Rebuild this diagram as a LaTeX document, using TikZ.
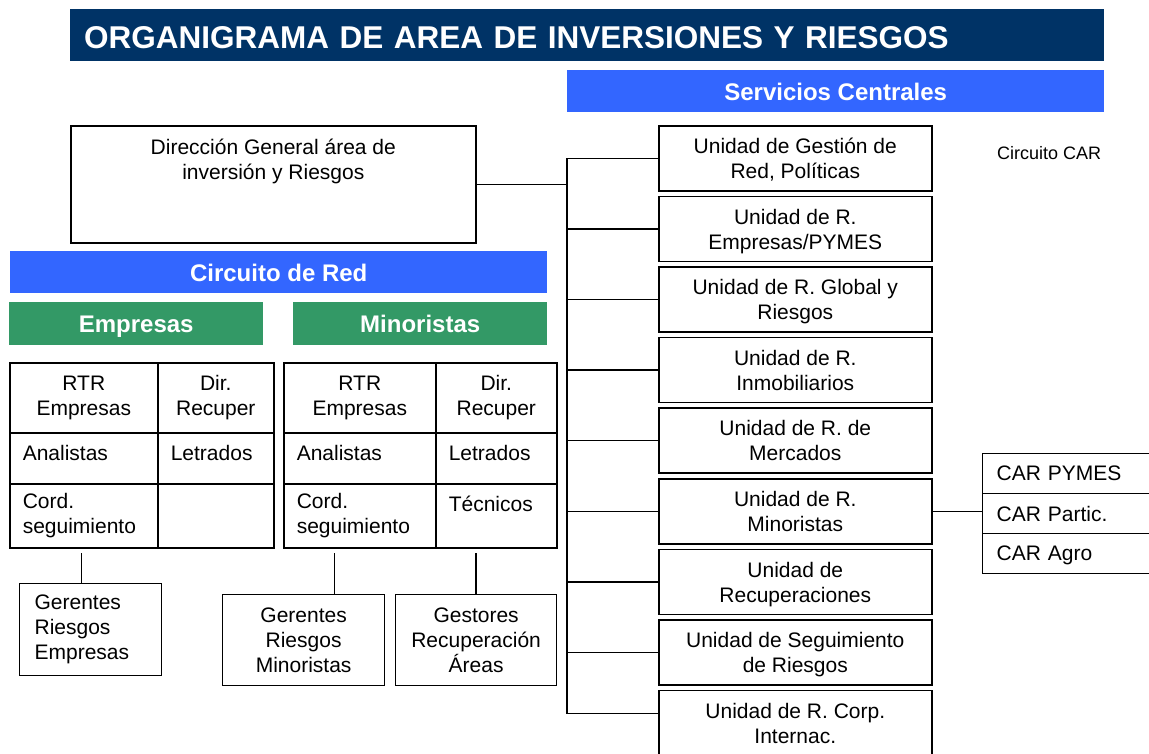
\documentclass[tikz,border=0pt]{standalone}
\usepackage{fontspec}
\setmainfont{Liberation Sans}
\usepackage{tikz}
\definecolor{titleblue}{RGB}{0,51,102}
\definecolor{banblue}{RGB}{51,102,255}
\definecolor{bangreen}{RGB}{51,153,102}

\begin{document}
\begin{tikzpicture}[x=1pt, y=-1pt,
	txt/.style={font=\fontsize{21}{25}\selectfont},
	banner/.style={anchor=north west, inner sep=0pt, text=white, text height=18pt, text depth=0pt, font=\fontsize{24}{28}\selectfont\bfseries},
	unit/.style={draw, line width=1.6pt, anchor=north west, inner sep=0pt, minimum width=273pt, minimum height=65pt, text depth=0pt, align=center, txt},
	cell/.style={draw, line width=1.6pt, anchor=north west, inner sep=0pt, txt},
	sub/.style={draw, line width=1.2pt, anchor=north west, inner sep=0pt, txt},
	con/.style={line width=1.4pt}]
			\useasboundingbox (0,0) rectangle (1149,753);
			%%
			\node[banner, fill=titleblue, minimum width=1034pt, minimum height=52pt, text width=1006pt, text height=26pt, align=left, font=\fontsize{31.5}{35}\selectfont\bfseries] (titulo) at (70,9) {ORGANIGRAMA DE AREA DE INVERSIONES Y RIESGOS};
			\node[banner, fill=banblue, minimum width=537pt, minimum height=42pt, text height=19pt] (serv) at (567,70) {Servicios Centrales};
			\node[banner, fill=banblue, minimum width=537pt, minimum height=42pt] (red) at (10,251) {Circuito de Red};
			\node[banner, fill=bangreen, minimum width=254pt, minimum height=43pt] (emp) at (9,302) {Empresas};
			\node[banner, fill=bangreen, minimum width=254pt, minimum height=43pt] (min) at (293,302) {Minoristas};
			%%
			\node[unit, minimum width=405pt, minimum height=117pt] (dir) at (70,125) {};
			\node[txt, anchor=north, align=center, inner sep=0pt] (dirtxt) at ([yshift=-14pt]dir.north) {Dirección General área de\\inversión y Riesgos};
			%%
			\foreach \i/\t in {1/{Unidad de Gestión de\\Red, Políticas},
				2/{Unidad de R.\\Empresas/PYMES},
				3/{Unidad de R. Global y\\Riesgos},
				4/{Unidad de R.\\Inmobiliarios},
				5/{Unidad de R. de\\Mercados},
				6/{Unidad de R.\\Minoristas},
				7/{Unidad de\\Recuperaciones},
				8/{Unidad de Seguimiento\\de Riesgos},
				9/{Unidad de R. Corp.\\Internac.}}
				\node[unit] (u\i) at (658, {125+70.6*(\i-1)}) {\t};
			%%
			\node[anchor=west, inner sep=0pt, font=\fontsize{18}{22}\selectfont] (ccar) at (997,153) {Circuito CAR};
			\node[cell, line width=1.2pt, minimum width=200pt, minimum height=40pt, text width=172pt, align=left] (carP) at (982,453) {CAR PYMES};
			\node[cell, line width=1.2pt, minimum width=200pt, minimum height=40pt, text width=172pt, align=left] (carA) at (982,493) {CAR Partic.};
			\node[cell, line width=1.2pt, minimum width=200pt, minimum height=40pt, text width=172pt, text depth=0pt, align=left] (carG) at (982,533) {CAR Agro};
			%%
			\coordinate (bus) at (567,0);
			\coordinate (corp) at ([yshift=9.5pt]u9.west);
			\draw[con] (dir.east) -- (dir.east -| bus);
			\draw[con] (u1.west) -| (bus |- corp) -- (corp);
			\foreach \i in {2,...,8}
				\draw[con] (u\i.west -| bus) -- (u\i.west);
			\draw[con] (u6.east) -- (u6.east -| carA.west);
			%%
			\node[cell, minimum width=148pt, minimum height=70pt, align=center] (rtrE) at (9,362) {RTR\\Empresas};
			\node[cell, minimum width=116pt, minimum height=70pt, align=center] (dirE) at (157,362) {Dir.\\Recuper};
			\node[cell, minimum width=148pt, minimum height=51pt, text width=122pt, text depth=10pt, align=left] (anaE) at (9,432) {Analistas};
			\node[cell, minimum width=116pt, minimum height=51pt, text width=90pt, text depth=10pt, align=left] (letE) at (157,432) {Letrados};
			\node[cell, minimum width=148pt, minimum height=64pt, text width=122pt, align=left] (cordE) at (9,483) {Cord.\\seguimiento};
			\node[cell, minimum width=116pt, minimum height=64pt] (vacE) at (157,483) {};
			%%
			\node[cell, minimum width=152pt, minimum height=70pt, align=center] (rtrM) at (283,362) {RTR\\Empresas};
			\node[cell, minimum width=121pt, minimum height=70pt, align=center] (dirM) at (435,362) {Dir.\\Recuper};
			\node[cell, minimum width=152pt, minimum height=51pt, text width=126pt, text depth=10pt, align=left] (anaM) at (283,432) {Analistas};
			\node[cell, minimum width=121pt, minimum height=51pt, text width=95pt, text depth=10pt, align=left] (letM) at (435,432) {Letrados};
			\node[cell, minimum width=152pt, minimum height=64pt, text width=126pt, align=left] (cordM) at (283,483) {Cord.\\seguimiento};
			\node[cell, minimum width=121pt, minimum height=64pt, text width=95pt, align=left] (tecM) at (435,483) {Técnicos\\\mbox{}};
			%%
			\node[sub, minimum width=142pt, minimum height=92pt, text width=112pt, align=left] (gerE) at (19,583) {Gerentes\\Riesgos\\Empresas};
			\node[sub, minimum width=162pt, minimum height=91pt, align=center] (gerM) at (222,594) {Gerentes\\Riesgos\\Minoristas};
			\node[sub, minimum width=161pt, minimum height=91pt, align=center] (gesM) at (395,594) {Gestores\\Recuperación\\Áreas};
			\draw[con] ([xshift=-9pt]gerE.north) -- ++(0,-30);
			\draw[con] ([xshift=31pt]gerM.north) -- ++(0,-41);
			\draw[con] (gesM.north) -- ++(0,-41);
		\end{tikzpicture}
\end{document}
